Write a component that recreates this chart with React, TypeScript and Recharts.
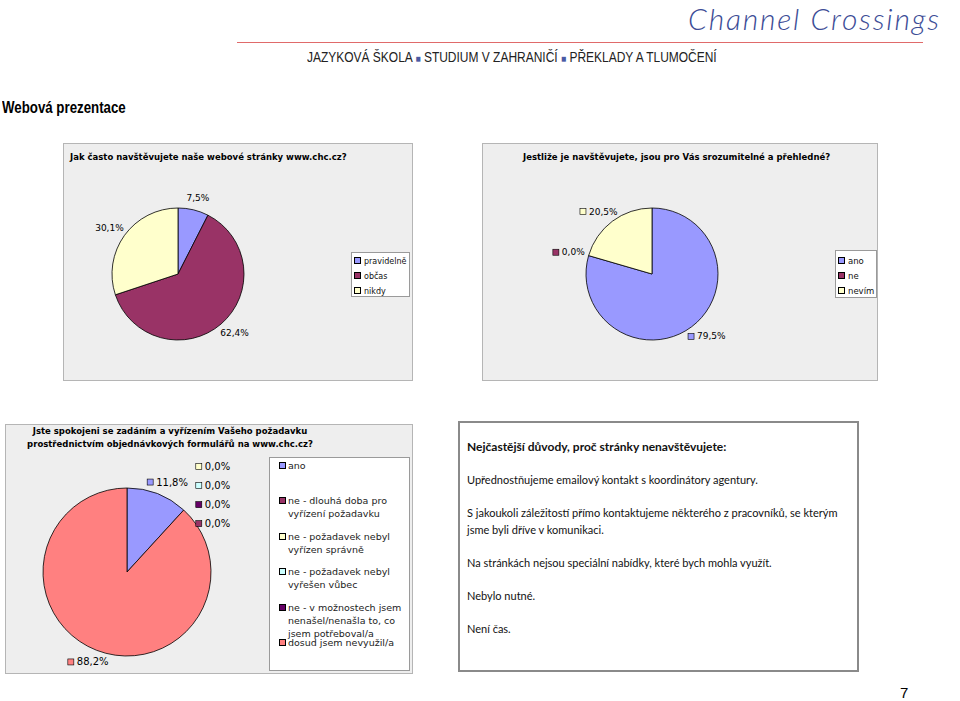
import React from 'react';
import { PieChart, Pie, Cell } from 'recharts';

// Jak často navštěvujete naše webové stránky
const visitNames = ['pravidelně', 'občas', 'nikdy'];
const visitValues = [7.5, 62.4, 30.1];
const visitColors = ['#9999ff', '#993366', '#ffffcc'];

// Jestliže je navštěvujete, jsou srozumitelné
const clarityNames = ['ano', 'ne', 'nevím'];
const clarityValues = [79.5, 0, 20.5];
const clarityColors = ['#9999ff', '#993366', '#ffffcc'];

// Spokojenost s objednávkovými formuláři
const formNames = [
  'ano',
  'ne - dlouhá doba pro\nvyřízení požadavku',
  'ne - požadavek nebyl\nvyřízen správně',
  'ne - požadavek nebyl\nvyřešen vůbec',
  'ne - v možnostech jsem\nnenašel/nenašla to, co\njsem potřeboval/a',
  'dosud jsem nevyužil/a',
];
const formValues = [11.8, 0, 0, 0, 0, 88.2];
const formColors = ['#9999ff', '#993366', '#ffffcc', '#ccffff', '#660066', '#ff8080'];
// order in which Excel stacked the 0,0% labels (top to bottom)
const formZeroRank = [3, 0, 1, 2];

const reasons = [
  'Upřednostňujeme emailový kontakt s koordinátory agentury.',
  'S jakoukoli záležitostí přímo kontaktujeme některého z pracovníků, se kterým jsme byli dříve v komunikaci.',
  'Na stránkách nejsou speciální nabídky, které bych mohla využít.',
  'Nebylo nutné.',
  'Není čas.',
];

const RADIAN = Math.PI / 180;
const fmt = (v: number) => v.toFixed(1).replace('.', ',') + '%';
const chartFont = '"DejaVu Sans", Verdana, sans-serif';
const narrowFont = '"Liberation Sans", Arial, sans-serif';

const toData = (names: string[], values: number[]) =>
  names.map((name, i) => ({ name, value: values[i] }));

interface LabelOpts {
  keyed: boolean;
  fontSize: number;
  colors: string[];
  zeroRank?: number[];
}

const makeLabel = (opts: LabelOpts) => (props: any) => {
  const { cx, cy, midAngle, outerRadius, index } = props;
  const value = props.value ?? props.payload?.value ?? 0;
  const text = fmt(value);
  const cos = Math.cos(midAngle * RADIAN);
  const sin = Math.sin(midAngle * RADIAN);
  const textW = text.length * opts.fontSize * 0.6;
  const w = textW + (opts.keyed ? 9 : 0);
  const h = opts.fontSize + 3;
  const ax = cx + (outerRadius + 6) * cos;
  const ay = cy - (outerRadius + 6) * sin;
  let left = ax + (cos * w) / 2 - w / 2;
  let y = ay - (sin * h) / 2;
  if (value === 0 && opts.zeroRank) {
    let zi = 0;
    for (let i = 0; i < index; i++) if (formValues[i] === 0) zi++;
    left = ax + 8;
    y = ay - 39 + opts.zeroRank[zi] * 19;
  }
  return (
    <g key={`lbl-${index}`}>
      {opts.keyed && (
        <rect x={left} y={y - 3} width={6} height={6} fill={opts.colors[index]} stroke="#000" strokeWidth={0.6} />
      )}
      <text
        x={left + (opts.keyed ? 9 : 0)}
        y={y}
        dominantBaseline="central"
        textAnchor="start"
        fontSize={opts.fontSize}
        fontFamily={chartFont}
        fill="#000"
      >
        {text}
      </text>
    </g>
  );
};

const Key = ({ color }: { color: string }) => (
  <span
    style={{
      display: 'inline-block',
      width: 5,
      height: 5,
      background: color,
      border: '1px solid #000',
      marginRight: 3,
      verticalAlign: 'middle',
      position: 'relative',
      top: -1,
    }}
  />
);

const SmallPie = ({ names, values, colors, cx, cy, r, width, height, label }: any) => (
  <PieChart width={width} height={height} margin={{ top: 0, right: 0, bottom: 0, left: 0 }} style={{ position: 'absolute', left: 0, top: 0 }}>
    <Pie
      data={toData(names, values)}
      dataKey="value"
      nameKey="name"
      cx={cx}
      cy={cy}
      outerRadius={r}
      startAngle={90}
      endAngle={-270}
      stroke="#000"
      strokeWidth={0.8}
      labelLine={false}
      label={label}
      isAnimationActive={false}
    >
      {values.map((_: number, i: number) => (
        <Cell key={i} fill={colors[i]} />
      ))}
    </Pie>
  </PieChart>
);

const grayBox: React.CSSProperties = {
  position: 'absolute',
  background: '#eeeeee',
  border: '1px solid #b5b5b5',
  boxSizing: 'border-box',
  fontFamily: chartFont,
};

const titleStyle: React.CSSProperties = {
  position: 'absolute',
  fontSize: 8.5,
  fontWeight: 'bold',
  color: '#000',
  whiteSpace: 'nowrap',
  lineHeight: '12.5px',
};

const App = () => {
  return (
    <div
      style={{
        position: 'absolute',
        left: 0,
        top: 0,
        width: 960,
        height: 701,
        background: '#fff',
        overflow: 'hidden',
      }}
    >
      {/* logo + header */}
      <div
        style={{
          position: 'absolute',
          left: 688,
          top: 0,
          fontFamily: 'Lato, sans-serif',
          fontStyle: 'italic',
          fontWeight: 300,
          fontSize: 30,
          lineHeight: '36px',
          color: '#3c4c96',
          whiteSpace: 'nowrap',
          letterSpacing: 1.8,
        }}
      >
        Channel Crossings
      </div>
      <div style={{ position: 'absolute', left: 237, top: 42, width: 686, height: 1, background: '#e06a6a' }} />
      <div
        style={{
          position: 'absolute',
          left: 307,
          top: 49,
          fontFamily: narrowFont,
          fontSize: 14,
          color: '#222',
          whiteSpace: 'nowrap',
          transform: 'scaleX(0.855)',
          transformOrigin: 'left top',
        }}
      >
        JAZYKOVÁ ŠKOLA <span style={{ color: '#4a5aa4', fontSize: 10 }}>■</span> STUDIUM V ZAHRANIČÍ{' '}
        <span style={{ color: '#4a5aa4', fontSize: 10 }}>■</span> PŘEKLADY A TLUMOČENÍ
      </div>
      <div
        style={{
          position: 'absolute',
          left: 2,
          top: 99,
          fontFamily: narrowFont,
          fontWeight: 'bold',
          fontSize: 16,
          color: '#000',
          whiteSpace: 'nowrap',
          transform: 'scaleX(0.83)',
          transformOrigin: 'left top',
        }}
      >
        Webová prezentace
      </div>

      {/* chart 1 */}
      <div style={{ ...grayBox, left: 63, top: 143, width: 350, height: 238 }}>
        <SmallPie
          names={visitNames}
          values={visitValues}
          colors={visitColors}
          cx={114}
          cy={130}
          r={66}
          width={348}
          height={236}
          label={makeLabel({ keyed: false, fontSize: 9, colors: visitColors })}
        />
        <div style={{ ...titleStyle, left: 6, top: 7 }}>Jak často navštěvujete naše webové stránky www.chc.cz?</div>
        <div
          style={{
            position: 'absolute',
            left: 287,
            top: 108,
            width: 59,
            height: 45,
            background: '#fff',
            border: '1px solid #9a9a9a',
            boxSizing: 'border-box',
            padding: '1px 0 0 2px',
            fontSize: 8,
            lineHeight: '15px',
            color: '#111',
          }}
        >
          {visitNames.map((n, i) => (
            <div key={n} style={{ whiteSpace: 'nowrap' }}>
              <Key color={visitColors[i]} />
              {n}
            </div>
          ))}
        </div>
      </div>

      {/* chart 2 */}
      <div style={{ ...grayBox, left: 482, top: 143, width: 396, height: 238 }}>
        <SmallPie
          names={clarityNames}
          values={clarityValues}
          colors={clarityColors}
          cx={169}
          cy={130}
          r={66}
          width={394}
          height={236}
          label={makeLabel({ keyed: true, fontSize: 9, colors: clarityColors })}
        />
        <div style={{ ...titleStyle, left: 40, top: 7 }}>Jestliže je navštěvujete, jsou pro Vás srozumitelné a přehledné?</div>
        <div
          style={{
            position: 'absolute',
            left: 352,
            top: 106,
            width: 42,
            height: 48,
            background: '#fff',
            border: '1px solid #9a9a9a',
            boxSizing: 'border-box',
            padding: '3px 0 0 2px',
            fontSize: 8.5,
            lineHeight: '15px',
            color: '#111',
          }}
        >
          {clarityNames.map((n, i) => (
            <div key={n} style={{ whiteSpace: 'nowrap' }}>
              <Key color={clarityColors[i]} />
              {n}
            </div>
          ))}
        </div>
      </div>

      {/* chart 3 */}
      <div style={{ ...grayBox, left: 5, top: 424, width: 408, height: 250 }}>
        <SmallPie
          names={formNames}
          values={formValues}
          colors={formColors}
          cx={121}
          cy={147}
          r={84}
          width={406}
          height={248}
          label={makeLabel({ keyed: true, fontSize: 10, colors: formColors, zeroRank: formZeroRank })}
        />
        <div style={{ ...titleStyle, left: 0, top: 0, width: 328, textAlign: 'center' }}>
          Jste spokojeni se zadáním a vyřízením Vašeho požadavku
          <br />
          prostřednictvím objednávkových formulářů na www.chc.cz?
        </div>
        <div
          style={{
            position: 'absolute',
            left: 263,
            top: 32,
            width: 141,
            height: 214,
            background: '#fff',
            border: '1px solid #9a9a9a',
            boxSizing: 'border-box',
            padding: '1px 0 0 9px',
            fontSize: 9.5,
            lineHeight: '13px',
            color: '#222',
          }}
        >
          {formNames.map((n, i) => (
            <div key={n} style={{ height: 35.4, whiteSpace: 'pre-line', position: 'relative', paddingLeft: 9 }}>
              <span style={{ position: 'absolute', left: 0, top: 0 }}>
                <Key color={formColors[i]} />
              </span>
              {n}
            </div>
          ))}
        </div>
      </div>

      {/* text box */}
      <div
        style={{
          position: 'absolute',
          left: 458,
          top: 421,
          width: 401,
          height: 251,
          border: '2px solid #8a8a8a',
          boxSizing: 'border-box',
          background: '#fff',
          padding: '16px 0 0 7px',
          fontFamily: 'Lato, sans-serif',
          fontSize: 11,
          lineHeight: '16.5px',
          color: '#111',
        }}
      >
        <div style={{ fontWeight: 'bold', fontSize: 12, marginBottom: 16.5 }}>
          Nejčastější důvody, proč stránky nenavštěvujete:
        </div>
        {reasons.map((r) => (
          <div key={r} style={{ marginBottom: 16.5, width: 380 }}>
            {r}
          </div>
        ))}
      </div>

      <div
        style={{
          position: 'absolute',
          left: 900,
          top: 684,
          fontFamily: narrowFont,
          fontSize: 15,
          color: '#000',
        }}
      >
        7
      </div>
    </div>
  );
};

export default App;
